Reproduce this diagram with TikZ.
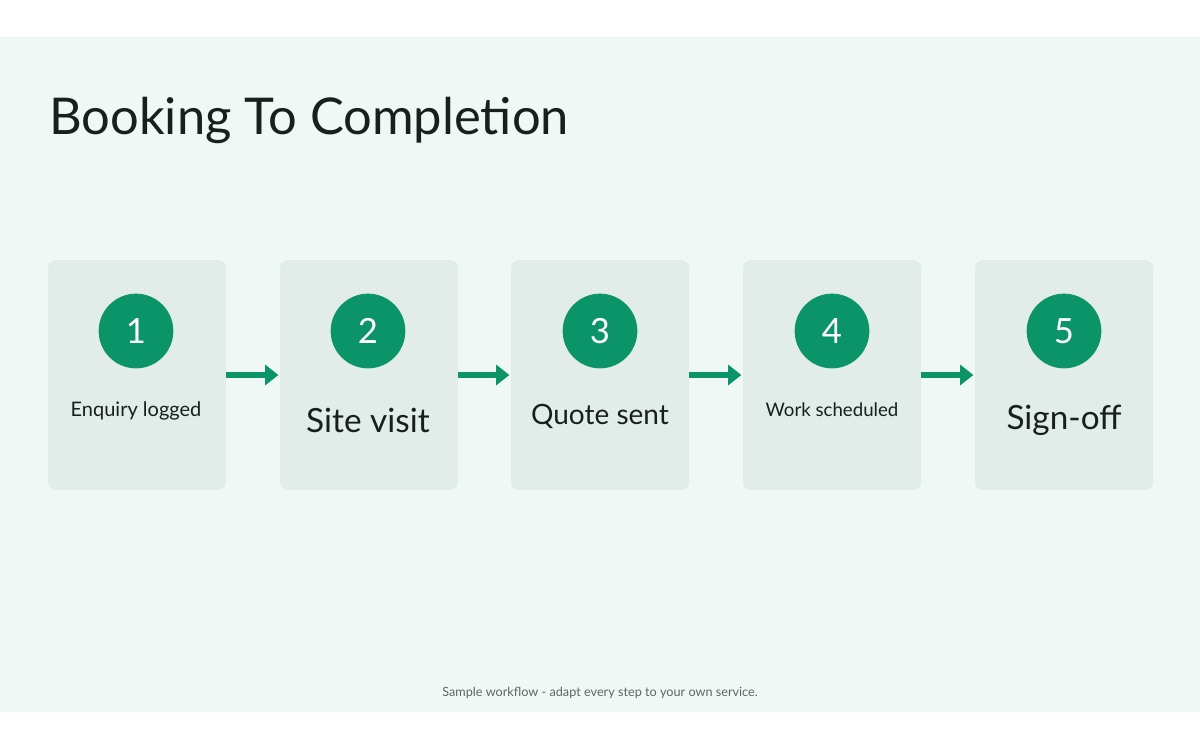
\documentclass[tikz,border=0pt]{standalone}
\usepackage{fontspec}
\setmainfont{Lato}
\usepackage{tikz}
\definecolor{pagebg}{HTML}{EFF8F5}
\definecolor{cardbg}{HTML}{E2ECE8}
\definecolor{stepgreen}{HTML}{0B9468}
\definecolor{inktext}{HTML}{17201C}
\definecolor{notegray}{HTML}{5E6663}
\tikzset{
  card/.style={fill=cardbg, rounded corners=6pt, minimum width=133.5pt, minimum height=172.5pt, inner sep=0pt},
  badge/.style={circle, fill=stepgreen, minimum size=56pt, inner sep=0pt, text=white, font=\fontsize{26}{28}\selectfont},
  steplabel/.style={text=inktext, inner sep=0pt},
  flow/.style={draw=stepgreen, line width=4.5pt, -{Triangle[length=10pt,width=15pt]}, shorten >=1pt}
}
\usetikzlibrary{arrows.meta}
\begin{document}
\begin{tikzpicture}[x=0.75pt,y=-0.75pt]
        \useasboundingbox (0,0) rectangle (1200,750);
        \fill[white] (0,0) rectangle (1200,750);
        \fill[pagebg] (0,37) rectangle (1200,712);

        \node[anchor=base west, text=inktext, inner sep=0pt, font=\fontsize{38}{44}\selectfont] (title) at (49,134) {Booking To Completion};

        % cards with number badges
        \node[card] (c1) at (137,375) {};
        \node[card] (c2) at (369,375) {};
        \node[card] (c3) at (600,375) {};
        \node[card] (c4) at (832,375) {};
        \node[card] (c5) at (1064,375) {};

        \foreach \i/\xx in {1/136,2/368,3/600,4/832,5/1064}
            \node[badge] (b\i) at (\xx,331) {\i};

        \node[steplabel, font=\fontsize{15}{18}\selectfont] (t1) at (136,411) {Enquiry logged};
        \node[steplabel, font=\fontsize{25}{30}\selectfont] (t2) at (368,420) {Site visit};
        \node[steplabel, font=\fontsize{21}{25}\selectfont] (t3) at (600,416) {Quote sent};
        \node[steplabel, font=\fontsize{14}{17}\selectfont] (t4) at (832,410) {Work scheduled};
        \node[steplabel, font=\fontsize{25}{30}\selectfont] (t5) at (1064,420) {Sign-off};

        % connectors
        \foreach \a/\b in {1/2,2/3,3/4,4/5}
            \draw[flow] (c\a.east) -- (c\b.west);

        \node[text=notegray, font=\fontsize{9.5}{12}\selectfont] (note) at (600,693) {Sample workflow - adapt every step to your own service.};
\end{tikzpicture}
\end{document}
